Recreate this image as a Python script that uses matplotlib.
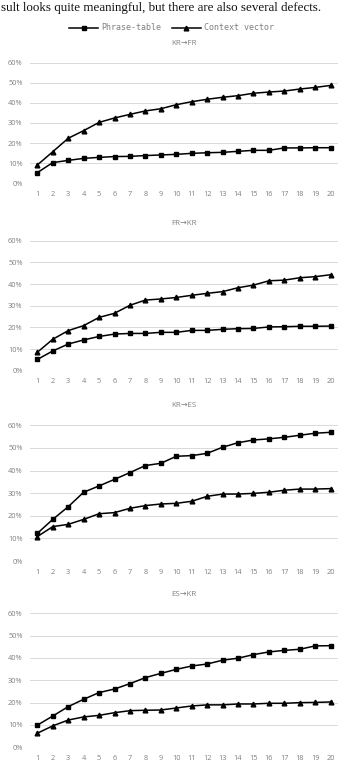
import numpy as np
import matplotlib
matplotlib.use("Agg")
import matplotlib.pyplot as plt
from matplotlib.lines import Line2D
from matplotlib.ticker import FuncFormatter

plt.rcParams['font.family'] = ['Open Sans', 'DejaVu Sans']

ranks = list(range(1, 21))
series_names = ['Phrase-table', 'Context vector']
titles = ['KR→FR', 'FR→KR', 'KR→ES', 'ES→KR']

# percentages
phrase_kr_fr = [5.3, 10.3, 11.4, 12.4, 12.9, 13.3, 13.4, 13.8, 14.1, 14.4,
                14.9, 15.2, 15.4, 15.9, 16.4, 16.4, 17.6, 17.6, 17.7, 17.7]
context_kr_fr = [9.1, 15.7, 22.4, 26.2, 30.3, 32.5, 34.3, 36.0, 37.1, 39.1,
                 40.6, 41.8, 42.8, 43.6, 44.8, 45.4, 45.9, 46.9, 47.7, 48.7]

phrase_fr_kr = [5.2, 9.1, 12.3, 14.2, 15.8, 16.9, 17.2, 17.2, 17.7, 17.7,
                18.6, 18.6, 19.1, 19.4, 19.5, 20.2, 20.3, 20.5, 20.5, 20.6]
context_fr_kr = [8.5, 14.5, 18.5, 20.8, 24.6, 26.5, 30.2, 32.6, 33.1, 33.8,
                 34.8, 35.7, 36.5, 38.3, 39.5, 41.5, 41.8, 42.9, 43.4, 44.3]

phrase_kr_es = [12.2, 18.4, 24.0, 30.4, 33.2, 36.1, 39.1, 42.2, 43.2, 46.3,
                46.6, 47.6, 50.3, 52.3, 53.5, 54.0, 54.7, 55.6, 56.5, 56.9]
context_kr_es = [10.8, 15.2, 16.2, 18.4, 20.9, 21.4, 23.3, 24.5, 25.2, 25.5,
                 26.4, 28.6, 29.6, 29.6, 29.9, 30.4, 31.3, 31.8, 31.8, 32.0]

phrase_es_kr = [9.9, 14.0, 18.2, 21.5, 24.5, 26.1, 28.5, 31.2, 33.1, 34.9,
                36.4, 37.3, 39.0, 39.9, 41.5, 42.7, 43.4, 43.9, 45.4, 45.5]
context_es_kr = [6.3, 9.6, 12.2, 13.6, 14.3, 15.5, 16.4, 16.6, 16.7, 17.6,
                 18.5, 19.0, 19.0, 19.4, 19.4, 19.7, 19.7, 20.0, 20.1, 20.3]

panels = [(phrase_kr_fr, context_kr_fr), (phrase_fr_kr, context_fr_kr),
          (phrase_kr_es, context_kr_es), (phrase_es_kr, context_es_kr)]

W, H = 343, 768
fig = plt.figure(figsize=(W / 100, H / 100), dpi=100)

# line of page text above the figure
fig.text(0.003, 1 - 10.5 / H,
         'sult looks quite meaningful, but there are also several defects.',
         family='Liberation Serif', fontsize=9.4, color='#111111', va='baseline')

# axes boxes in pixels: (top, bottom)
boxes = [(62.7, 183.3), (240.7, 370.7), (425.3, 561.0), (613.3, 747.3)]
title_gap = [18.7, 17.4, 19.6, 19.3]
left_px, right_px = 29.6, 338.4

gray = '#808080'
for (top, bot), title, gap, (phrase, context) in zip(boxes, titles, title_gap, panels):
    ax = fig.add_axes([left_px / W, 1 - bot / H, (right_px - left_px) / W, (bot - top) / H])
    ax.plot(ranks, np.array(phrase) / 100, color='black', lw=1.1,
            marker='s', ms=3.2, zorder=3)
    ax.plot(ranks, np.array(context) / 100, color='black', lw=1.1,
            marker='^', ms=3.4, zorder=3)
    ax.set_xlim(0.5, 20.5)
    ax.set_ylim(0, 0.6)
    ax.set_xticks(ranks)
    ax.set_yticks(np.arange(0, 0.61, 0.1))
    ax.yaxis.set_major_formatter(FuncFormatter(lambda v, p: f'{v * 100:.0f}%'))
    ax.grid(axis='y', color='#d9d9d9', lw=0.7)
    ax.set_axisbelow(True)
    for s in ax.spines.values():
        s.set_visible(False)
    ax.tick_params(length=0, labelsize=5.3, colors=gray)
    ax.tick_params(axis='x', pad=5.5)
    ax.tick_params(axis='y', pad=5)
    ax.text(0.5, 1 + gap / (bot - top), title, transform=ax.transAxes,
            ha='center', va='center', fontsize=5.8, color=gray)

handles = [Line2D([], [], color='black', lw=1.1, marker='s', ms=3.2),
           Line2D([], [], color='black', lw=1.1, marker='^', ms=3.4)]
leg = fig.legend(handles, series_names, loc='center', ncol=2, frameon=False,
                 bbox_to_anchor=(0.5, 1 - 28 / H), handlelength=3.5,
                 handletextpad=0.4, columnspacing=1.2,
                 prop={'family': 'DejaVu Sans Mono', 'size': 6.0})
for t in leg.get_texts():
    t.set_color(gray)

fig.savefig('out.png', dpi=100)
